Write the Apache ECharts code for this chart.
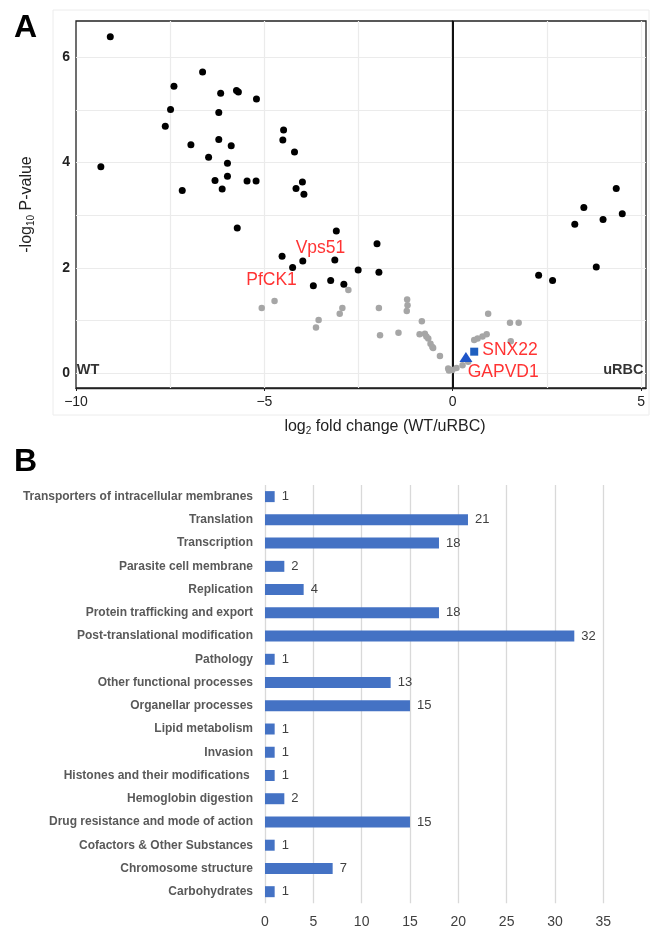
<!DOCTYPE html>
<html>
<head>
<meta charset="utf-8">
<script src="https://cdn.jsdelivr.net/npm/echarts@6/dist/echarts.min.js"></script>
<style>html,body{margin:0;padding:0;background:#fff}#c{width:650px;height:933px}</style>
</head>
<body>
<div id="c"></div>
<script>
// ---------- Panel A: volcano plot data [log2 fold change, -log10 P] ----------
const sigPoints = [
  [-9.09,6.39],[-9.34,3.92],[-6.64,5.72],[-7.40,5.45],[-7.49,5.01],[-7.63,4.69],[-6.95,4.34],
  [-7.18,3.47],[-6.48,4.10],[-6.16,5.32],[-6.21,4.95],[-6.21,4.44],[-5.88,4.32],[-5.98,3.99],
  [-5.98,3.74],[-6.31,3.66],[-6.12,3.50],[-5.74,5.37],[-5.69,5.34],[-5.21,5.21],[-5.46,3.65],
  [-5.22,3.65],[-4.49,4.62],[-4.51,4.43],[-4.20,4.20],[-3.99,3.63],[-4.16,3.51],[-3.95,3.40],
  [-5.72,2.76],[-3.09,2.70],[-2.01,2.46],[-4.53,2.22],[-3.98,2.13],[-3.13,2.15],[-4.25,2.01],
  [-2.51,1.96],[-1.96,1.92],[-3.70,1.66],[-3.24,1.76],[-2.89,1.69],
  [4.34,3.51],[3.48,3.15],[4.50,3.03],[3.99,2.92],[3.24,2.83],[3.81,2.02],[2.28,1.86],[2.65,1.76]
];
const nsPoints = [
  [-2.77,1.58],[-5.07,1.24],[-4.73,1.37],[-3.56,1.01],[-3.63,0.87],[-2.93,1.24],[-3.00,1.13],
  [-1.96,1.24],[-1.93,0.72],[-1.21,1.40],[-1.20,1.29],[-1.22,1.18],[-1.44,0.77],[-0.82,0.99],
  [-0.88,0.74],[-0.74,0.75],[-0.65,0.66],[-0.59,0.56],[-0.52,0.48],[-0.34,0.33],[-0.12,0.09],
  [-0.01,0.06],[0.10,0.10],[0.94,1.13],[1.52,0.96],[1.75,0.96],[1.54,0.61],[0.90,0.74],
  [0.79,0.70],[0.66,0.66],[0.57,0.63],[0.41,0.22],[0.26,0.15],[-0.10,0.05],[-0.54,0.50],[-0.70,0.70]
];
const gapvd1Point = [[0.35,0.31]];
const snx22Point = [[0.57,0.41]];
const redLabels = [[-3.51,2.38,'Vps51'],[-4.81,1.77,'PfCK1'],[1.52,0.44,'SNX22'],[1.34,0.02,'GAPVD1']];
const groupLabels = [[-9.68,0.06,'WT'],[4.53,0.06,'uRBC']];
const xTicksA = [-10,-5,0,5];
const yTicksA = [0,2,4,6];
const xGridA = [-7.5,-5,-2.5,2.5,5];
const yGridA = [0,1,2,3,4,5,6];

// ---------- Panel B: functional categories ----------
const categories = [
  'Transporters of intracellular membranes','Translation','Transcription','Parasite cell membrane',
  'Replication','Protein trafficking and export','Post-translational modification','Pathology',
  'Other functional processes','Organellar processes','Lipid metabolism','Invasion',
  'Histones and their modifications ','Hemoglobin digestion','Drug resistance and mode of action',
  'Cofactors & Other Substances','Chromosome structure','Carbohydrates'
];
const counts = [1,21,18,2,4,18,32,1,13,15,1,1,1,2,15,1,7,1];

const chart = echarts.init(document.getElementById('c'), null, {renderer:'canvas'});
const gridLineStyle = {color:'#ebebeb', width:1.2, type:'solid', opacity:1};

const option = {
  animation:false,
  textStyle:{fontFamily:'Liberation Sans, Arial, sans-serif'},
  graphic:[
    {type:'rect', shape:{x:53,y:10,width:596,height:405}, style:{fill:'none', stroke:'#ececec', lineWidth:1}, z:-1},
    {type:'text', left:14, top:12, style:{text:'A', font:'bold 32px Liberation Sans, Arial', fill:'#000'}},
    {type:'text', left:14, top:446, style:{text:'B', font:'bold 32px Liberation Sans, Arial', fill:'#000'}}
  ],
  grid:[
    {left:76, top:21, width:570, height:367, show:true, borderColor:'#222', borderWidth:1.3, backgroundColor:'#fff'},
    {left:265, top:485, width:338.3, height:418.3}
  ],
  xAxis:[
    {gridIndex:0, type:'value', min:-10, max:5.13,
     name:'log{sub|2} fold change (WT/uRBC)', nameLocation:'middle', nameGap:30,
     nameTextStyle:{fontSize:16, color:'#222', padding:[0,0,0,48],
       rich:{sub:{fontSize:10, verticalAlign:'bottom', padding:[8,0,0,0], color:'#222'}}},
     axisLine:{show:true, onZero:false, lineStyle:{color:'#222', width:1.3}},
     axisTick:{show:true, customValues:xTicksA, length:3, lineStyle:{color:'#222'}},
     axisLabel:{customValues:xTicksA, fontSize:14, color:'#222', margin:7,
       formatter:v=>String(v).replace('-','\u2212')},
     splitLine:{show:false}},
    {gridIndex:1, type:'value', min:0, max:35, interval:5,
     axisLine:{show:false}, axisTick:{show:false},
     axisLabel:{fontSize:14, color:'#404040', margin:12},
     splitLine:{show:true, lineStyle:{color:'#d9d9d9', width:1.3}}}
  ],
  yAxis:[
    {gridIndex:0, type:'value', min:-0.28, max:6.69,
     name:'-log{sub|10} P-value', nameLocation:'middle', nameGap:40, nameRotate:90,
     nameTextStyle:{fontSize:16, color:'#222',
       rich:{sub:{fontSize:10, verticalAlign:'bottom', padding:[8,0,0,0], color:'#222'}}},
     axisLine:{show:true, lineStyle:{color:'#222', width:1.3}},
     axisTick:{show:true, customValues:yTicksA, length:3, lineStyle:{color:'#222'}},
     axisLabel:{customValues:yTicksA, fontSize:14, fontWeight:'bold', color:'#222', margin:6},
     splitLine:{show:false}},
    {gridIndex:1, type:'category', data:categories, inverse:true,
     axisLine:{show:false}, axisTick:{show:false},
     axisLabel:{fontSize:12, fontWeight:'bold', color:'#595959', margin:12}}
  ],
  series:[
    {type:'scatter', xAxisIndex:0, yAxisIndex:0, data:[], silent:true, z:1,
     markLine:{silent:true, z:1, symbol:'none', label:{show:false}, lineStyle:gridLineStyle, animation:false,
       emphasis:{disabled:true},
       data:[...xGridA.map(v=>({xAxis:v})), ...yGridA.map(v=>({yAxis:v}))]}},
    {type:'scatter', xAxisIndex:0, yAxisIndex:0, data:[], silent:true, z:2,
     markLine:{silent:true, z:2, symbol:'none', label:{show:false}, lineStyle:{color:'#111', width:2, type:'solid', opacity:1}, animation:false,
       emphasis:{disabled:true},
       data:[{xAxis:0}]}},
    {name:'ns', type:'scatter', xAxisIndex:0, yAxisIndex:0, data:nsPoints, symbolSize:6.5,
     itemStyle:{color:'#a6a6a6', opacity:1}, z:3},
    {name:'sig', type:'scatter', xAxisIndex:0, yAxisIndex:0, data:sigPoints, symbolSize:7,
     itemStyle:{color:'#000', opacity:1}, z:4},
    {name:'GAPVD1', type:'scatter', xAxisIndex:0, yAxisIndex:0, data:gapvd1Point, symbol:'triangle', symbolSize:[13,10],
     itemStyle:{color:'#1f55c9', opacity:1}, z:5},
    {name:'SNX22', type:'scatter', xAxisIndex:0, yAxisIndex:0, data:snx22Point, symbol:'rect', symbolSize:8,
     itemStyle:{color:'#1f5fbf', opacity:1}, z:5},
    {type:'scatter', xAxisIndex:0, yAxisIndex:0, data:redLabels, symbolSize:0, silent:true, z:6,
     label:{show:true, position:'inside', formatter:p=>p.data[2], color:'#ff0000', fontSize:17.5,
       fontFamily:'Liberation Sans, Arial'}},
    {type:'scatter', xAxisIndex:0, yAxisIndex:0, data:groupLabels, symbolSize:0, silent:true, z:6,
     label:{show:true, position:'inside', formatter:p=>p.data[2], color:'#000', fontSize:14.5, fontWeight:'bold'}},
    {type:'bar', xAxisIndex:1, yAxisIndex:1, data:counts, barWidth:11,
     itemStyle:{color:'#4472C4'},
     label:{show:true, position:'right', distance:7, color:'#404040', fontSize:13}}
  ]
};
chart.setOption(option);
</script>
</body>
</html>
